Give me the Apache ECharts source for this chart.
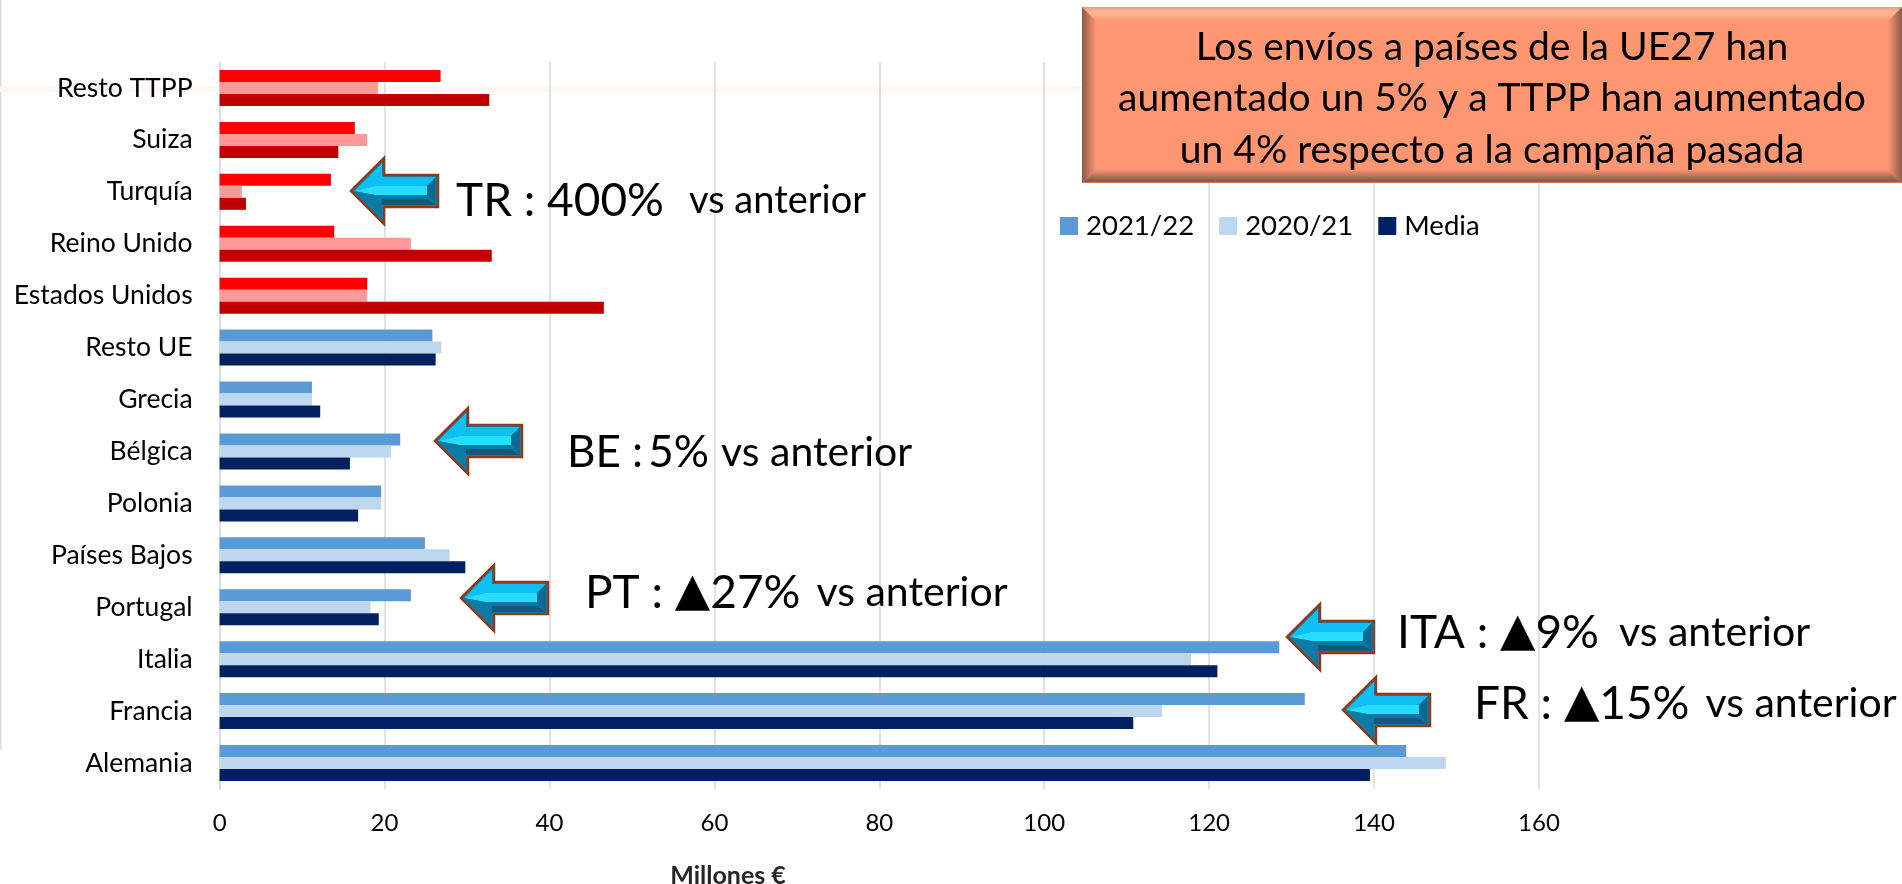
<!DOCTYPE html>
<html>
<head>
<meta charset="utf-8">
<style>
  html, body { margin: 0; padding: 0; background: #fff; }
  #chart { width: 1902px; height: 884px; }
</style>
<script src="https://cdn.jsdelivr.net/npm/echarts@6/dist/echarts.min.js"></script>
</head>
<body>
<div id="chart"></div>
<script>
// datos (de arriba a abajo)
const categories = ['Resto TTPP', 'Suiza', 'Turquía', 'Reino Unido', 'Estados Unidos', 'Resto UE', 'Grecia', 'Bélgica', 'Polonia', 'Países Bajos', 'Portugal', 'Italia', 'Francia', 'Alemania']
const campaign2122 = [26.8, 16.4, 13.5, 13.9, 17.9, 25.8, 11.2, 21.9, 19.6, 24.9, 23.2, 128.5, 131.6, 143.9]
const campaign2021 = [19.2, 17.9, 2.7, 23.2, 17.9, 26.9, 11.2, 20.8, 19.6, 27.9, 18.3, 117.8, 114.3, 148.7]
const media = [32.7, 14.4, 3.2, 33.0, 46.6, 26.2, 12.2, 15.8, 16.8, 29.8, 19.3, 121.0, 110.8, 139.5]
const thirdCountries = ['Resto TTPP', 'Suiza', 'Turquía', 'Reino Unido', 'Estados Unidos']
const xTicks = [0, 20, 40, 60, 80, 100, 120, 140, 160]

const boxLines = ['Los envíos a países de la UE27 han', 'aumentado un 5% y a TTPP han aumentado', 'un 4% respecto a la campaña pasada']

const FONT = 'Lato, "Noto Sans", sans-serif'

// serie con los primeros paises en rojo
function barSeries (name, values, color, redColor, overrides = {}) {
  return {
    name,
    type: 'bar',
    barWidth: 12,
    barGap: 0,
    itemStyle: { color },
    data: values.map((value, i) => {
      const category = categories[i]
      if (!thirdCountries.includes(category)) return value
      return { value, itemStyle: { color: overrides[category] || redColor } }
    })
  }
}

// flecha 3D de las anotaciones, x/y = esquina superior izquierda
function arrow (x, y) {
  const poly = (points, fill, extra) => ({
    type: 'polygon',
    z: 10,
    x,
    y,
    shape: { points },
    style: { fill, ...extra }
  })
  return [
    poly([[0, 33], [33, 0], [33, 17], [87, 17], [87, 49], [33, 49], [33, 66]], '#0a86b4', { stroke: '#8c3b1c', lineWidth: 2.5, lineJoin: 'miter' }),
    poly([[3, 33], [31, 5], [31, 19], [85, 19], [76, 28], [24, 28]], '#0cc0f4'),
    poly([[3, 33], [24, 28], [76, 28], [76, 37], [24, 37]], '#27dcff'),
    poly([[3, 33], [24, 37], [76, 37], [85, 47], [31, 47], [31, 61]], '#0b7ba6'),
    poly([[76, 28], [85, 19], [85, 47], [76, 37]], '#0a6a90'),
    poly([[31, 47], [85, 47], [76, 41], [31, 41]], '#12597a')
  ]
}

// texto de anotacion: etiqueta, triangulo opcional, porcentaje + "vs anterior"
function note (x, y, label, pct, { up = false, gap = 10, size = 46, vsSize = 41, spaceSize = 46 } = {}) {
  const mark = up ? '{t|▲}' : '{c| }'
  return {
    type: 'text',
    z: 11,
    x,
    y,
    style: {
      text: `{a|${label}}${mark}{a|${pct}}{s| }{b|vs anterior}`,
      verticalAlign: 'middle',
      rich: {
        a: { fontFamily: FONT, fontSize: size, fill: '#000' },
        c: { fontFamily: FONT, fontSize: spaceSize, fill: '#000' },
        t: { fontFamily: 'DejaVu Sans', fontSize: 46, fill: '#000' },
        s: { width: gap },
        b: { fontFamily: FONT, fontSize: vsSize, fill: '#000' }
      }
    }
  }
}

// caja naranja con bisel degradado
function calloutBox (left, top, right, bottom, bevel) {
  const FILL = '#ff9672'
  const DARK = '#8a5a48'
  const gradient = (x, y, x2, y2, stops) => ({
    type: 'linear',
    x,
    y,
    x2,
    y2,
    colorStops: stops.map(([offset, color]) => ({ offset, color }))
  })
  const edge = (points, fill) => ({ type: 'polygon', z: 20, shape: { points }, style: { fill } })
  const shapes = [
    { type: 'rect', z: 20, shape: { x: left, y: top, width: right - left, height: bottom - top }, style: { fill: FILL } },
    edge([[left, top], [right, top], [right - bevel, top + bevel], [left + bevel, top + bevel]],
      gradient(0, 0, 0, 1, [[0, '#e89878'], [0.35, '#ffbb9c'], [1, FILL]])),
    edge([[left, bottom], [right, bottom], [right - bevel, bottom - bevel], [left + bevel, bottom - bevel]],
      gradient(0, 0, 0, 1, [[0, FILL], [0.85, DARK], [0.92, DARK], [1, '#f4a88c']])),
    edge([[left, top], [left + bevel, top + bevel], [left + bevel, bottom - bevel], [left, bottom]],
      gradient(0, 0, 1, 0, [[0, DARK], [1, FILL]])),
    edge([[right, top], [right - bevel, top + bevel], [right - bevel, bottom - bevel], [right, bottom]],
      gradient(0, 0, 1, 0, [[0, FILL], [1, DARK]]))
  ]
  boxLines.forEach((text, i) => {
    shapes.push({
      type: 'text',
      z: 21,
      x: (left + right) / 2,
      y: 47 + i * 51.5,
      style: { text, fontFamily: FONT, fontSize: 39, fill: '#000', align: 'center', verticalAlign: 'middle' }
    })
  })
  return shapes
}

const chart = echarts.init(document.getElementById('chart'))

chart.setOption({
  animation: false,
  backgroundColor: '#fff',
  textStyle: { fontFamily: FONT },
  grid: { left: 219.6, top: 62, width: 1319.4, height: 727, containLabel: false },
  legend: {
    left: 1060,
    top: 212,
    padding: 0,
    itemWidth: 18,
    itemHeight: 18,
    itemGap: 25,
    icon: 'rect',
    data: ['2021/22', '2020/21', 'Media'],
    textStyle: { fontFamily: FONT, fontSize: 27.5, color: '#000', padding: [0, 0, 0, 3] }
  },
  xAxis: {
    type: 'value',
    min: xTicks[0],
    max: xTicks[xTicks.length - 1],
    interval: xTicks[1] - xTicks[0],
    position: 'bottom',
    axisLine: { show: false },
    axisTick: { show: false },
    axisLabel: { fontFamily: FONT, fontSize: 24, color: '#000', margin: 22 },
    splitLine: { show: true, lineStyle: { color: '#d9d9d9', width: 1.5 } }
  },
  yAxis: {
    type: 'category',
    inverse: true,
    data: categories,
    axisLine: { show: true, onZero: false, lineStyle: { color: '#d9d9d9', width: 1.5 } },
    axisTick: { show: false },
    axisLabel: { fontFamily: FONT, fontSize: 26.5, color: '#000', margin: 27 }
  },
  series: [
    barSeries('2021/22', campaign2122, '#5b9bd5', '#ff0000'),
    barSeries('2020/21', campaign2021, '#bdd7ee', '#ff9999', { 'Turquía': '#e8a098' }),
    barSeries('Media', media, '#002060', '#c00000')
  ],
  graphic: [
    // marco izquierdo y franja clara del fondo
    { type: 'rect', z: 0, shape: { x: 0, y: 0, width: 1.5, height: 750 }, style: { fill: '#dddddd' } },
    { type: 'rect', z: 0, shape: { x: 0, y: 86, width: 1082, height: 6 }, style: { fill: '#fdf7f5' } },
    ...arrow(351, 158),
    ...arrow(435, 408),
    ...arrow(461, 565),
    ...arrow(1287, 604),
    ...arrow(1343, 677),
    note(456, 201, 'TR :', '400%', { gap: 25, vsSize: 38 }),
    note(567, 453, 'BE :', '5%', { gap: 12, size: 44, spaceSize: 20 }),
    note(585, 593, 'PT : ', '27%', { up: true, gap: 16 }),
    note(1397, 633, 'ITA : ', '9%', { up: true, gap: 20 }),
    note(1474, 704, 'FR : ', '15%', { up: true, gap: 16 }),
    ...calloutBox(1082, 7, 1902, 183, 14),
    {
      type: 'text',
      z: 11,
      x: 728,
      y: 876,
      style: { text: 'Millones €', fontFamily: FONT, fontSize: 25, fontWeight: 'bold', fill: '#262626', align: 'center', verticalAlign: 'middle' }
    }
  ]
})
</script>
</body>
</html>
